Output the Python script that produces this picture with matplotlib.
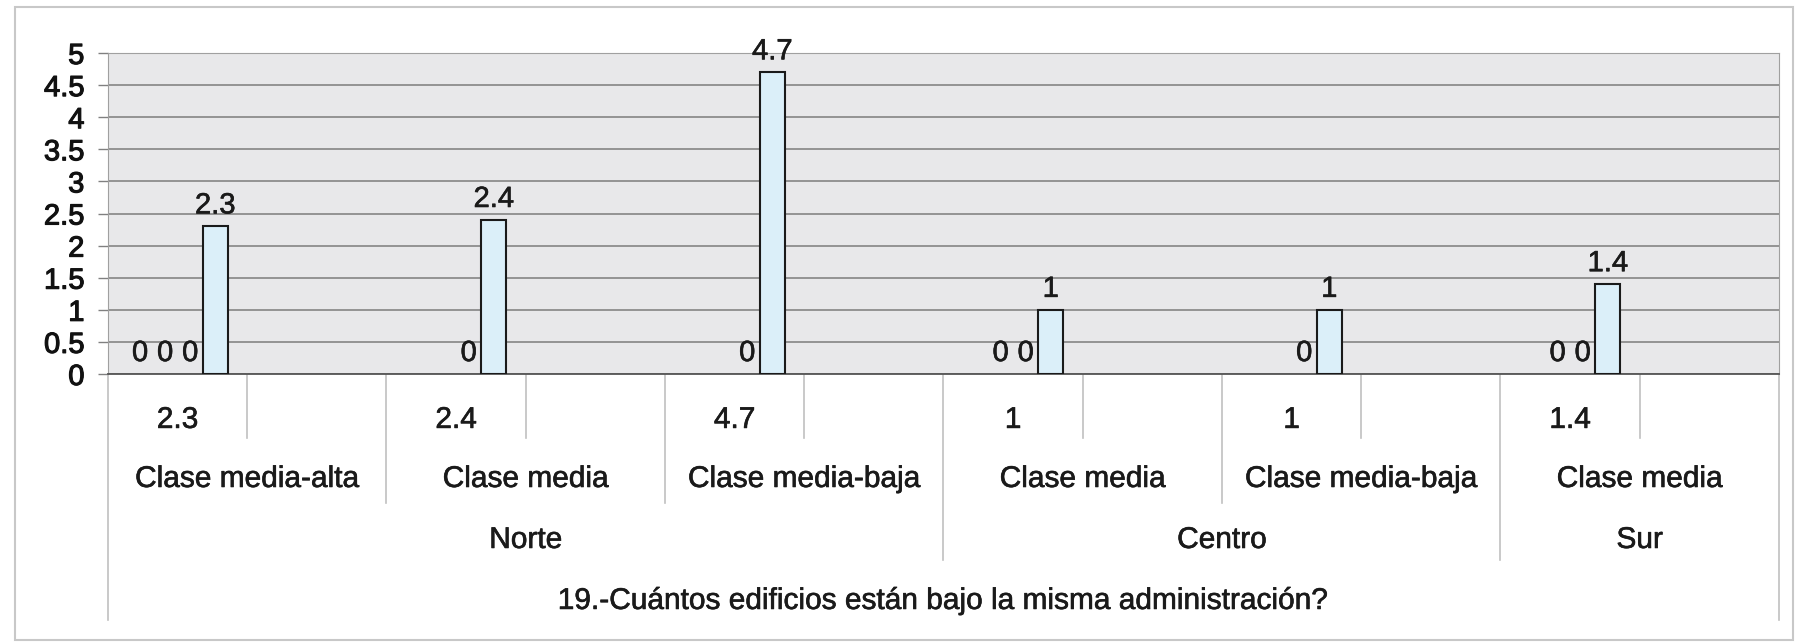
import numpy as np
import matplotlib.pyplot as plt
import matplotlib.transforms as mtransforms
import matplotlib.patheffects as pe
from matplotlib.patches import Rectangle

plt.rcParams['font.family'] = ['Liberation Sans', 'DejaVu Sans']

nan = np.nan

# leaf level of the category axis (two leaves per class)
leaf_labels = ['2.3', '', '2.4', '', '4.7', '', '1', '', '1', '', '1.4', '']
class_labels = ['Clase media-alta', 'Clase media', 'Clase media-baja',
                'Clase media', 'Clase media-baja', 'Clase media']
region_labels = ['Norte', 'Centro', 'Sur']
region_sizes = [3, 2, 1]  # classes per region
question = u'19.-Cuántos edificios están bajo la misma administración?'

serie_1 = [0, nan, nan, nan, nan, nan, nan, nan, nan, nan, nan, nan]
serie_2 = [0, nan, nan, nan, nan, nan, 0, nan, nan, nan, 0, nan]
serie_3 = [0, nan, 0, nan, 0, nan, 0, nan, 0, nan, 0, nan]
serie_4 = [2.3, nan, 2.4, nan, 4.7, nan, 1, nan, 1, nan, 1.4, nan]
series = [serie_1, serie_2, serie_3, serie_4]

W, H = 1798, 644
txt_color = '#1a1a1a'
heavy = [pe.withStroke(linewidth=0.45, foreground=txt_color)]

fig = plt.figure(figsize=(W / 100.0, H / 100.0), dpi=100)
ax = fig.add_axes([108.0 / W, 1 - 374.0 / H, (1779.0 - 108) / W, (374.0 - 53) / H])
ax.set_facecolor('#e8e8ea')

x = np.arange(len(leaf_labels))
bar_w = 0.18
offsets = [-0.27, -0.09, 0.09, 0.27]
for num in range(len(series)):
    vals = np.array(series[num], dtype=float)
    # zero bars are left out, only their labels are shown
    heights = np.where(vals > 0, vals, nan)
    ax.bar(x + offsets[num], heights, width=bar_w, color='#dbeff9',
           edgecolor='#1a1a1a', linewidth=1.5, zorder=3)
    for xi, v in zip(x, vals):
        if np.isnan(v):
            continue
        ax.annotate('%g' % v, (xi + offsets[num], v), xytext=(0, 5),
                    textcoords='offset points', ha='center', va='bottom',
                    fontsize=21, color=txt_color, zorder=4, path_effects=heavy)

ax.set_xlim(-0.5, len(leaf_labels) - 0.5)
ax.set_ylim(0, 5)
ticks = np.arange(0, 5.01, 0.5)
ax.set_yticks(ticks)
ax.set_yticklabels(['%g' % t for t in ticks])
ax.set_xticks([])
ax.yaxis.grid(True, color='#7c7c7c', linewidth=1.1)
ax.set_axisbelow(True)
ax.tick_params(axis='y', direction='out', length=7, width=1, color='#808080',
               pad=10, labelsize=21, labelcolor='#111111')
for lab in ax.get_yticklabels():
    lab.set_path_effects([pe.withStroke(linewidth=0.8, foreground='#111111')])
for side in ['left', 'right', 'top']:
    ax.spines[side].set_color('#a0a0a0')
ax.spines['bottom'].set_color('#555555')
ax.spines['bottom'].set_linewidth(1.3)

# multi level category axis below the plot
trans = mtransforms.blended_transform_factory(ax.transData, ax.transAxes)
line_kw = dict(transform=trans, color='#c0c0c0', linewidth=1.2, clip_on=False)
row_y = [-0.199, -0.402, -0.579, -0.766]
text_y = [-0.143, -0.327, -0.517, -0.707]
text_kw = dict(transform=trans, ha='center', va='center', fontsize=21.5,
               color=txt_color, path_effects=heavy)

region_edges = np.cumsum([0] + region_sizes) * 2 - 0.5
for b in np.arange(0.5, len(leaf_labels) - 1, 1.0):
    if b in region_edges:
        depth = row_y[2]
    elif (b + 0.5) % 2 == 0:
        depth = row_y[1]
    else:
        depth = row_y[0]
    ax.plot([b, b], [0, depth], **line_kw)
for b in [region_edges[0], region_edges[-1]]:
    ax.plot([b, b], [0, row_y[3]], **line_kw)

for xi, lab in zip(x, leaf_labels):
    ax.text(xi, text_y[0], lab, **text_kw)
for k, lab in enumerate(class_labels):
    ax.text(2 * k + 0.5, text_y[1], lab, **text_kw)
for k, lab in enumerate(region_labels):
    mid = (region_edges[k] + region_edges[k + 1]) / 2.0
    ax.text(mid, text_y[2], lab, **text_kw)
ax.text((len(leaf_labels) - 1) / 2.0, text_y[3], question, **text_kw)

# light frame round the whole chart
fig.add_artist(Rectangle((15.0 / W, 1 - 640.0 / H), (1793.0 - 15) / W, (640.0 - 7) / H,
                         transform=fig.transFigure, fill=False,
                         edgecolor='#c8c8c8', linewidth=1.5))

fig.savefig('out.png', dpi=100)
